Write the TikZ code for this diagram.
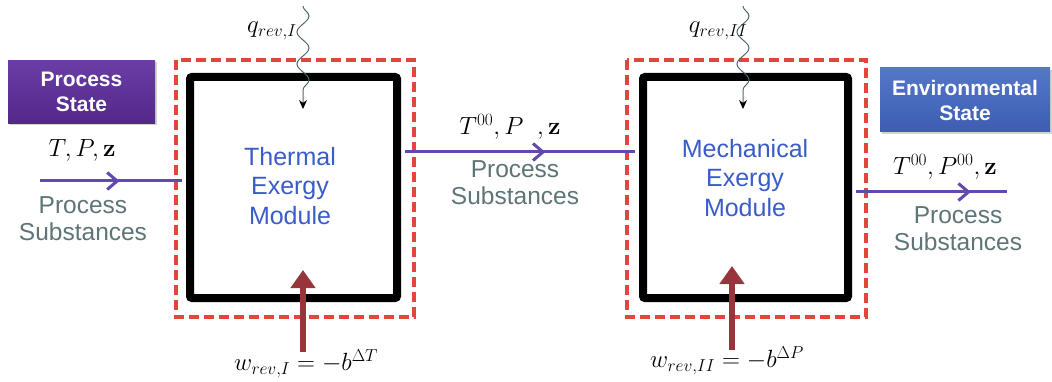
\documentclass[tikz,border=0pt]{standalone}
\usepackage{amsmath}
\usepackage[no-math]{fontspec}
\setmainfont{Liberation Sans}
\usetikzlibrary{arrows.meta,decorations.pathmorphing,decorations.markings,shadows}
\definecolor{flowpurple}{HTML}{6248B0}
\definecolor{boxpurple}{HTML}{52288A}
\definecolor{boxpurpletop}{HTML}{6A3EA6}
\definecolor{boxblue}{HTML}{3C5DB2}
\definecolor{boxbluetop}{HTML}{5577C8}
\definecolor{modblue}{HTML}{3A5CC8}
\definecolor{subgray}{HTML}{5E7476}
\definecolor{workred}{HTML}{96353A}
\definecolor{dashred}{HTML}{E2453A}
\definecolor{wavegray}{HTML}{4E6670}
\tikzset{
  statebox/.style={draw=none, text=white, font=\fontsize{21}{25}\selectfont\bfseries, align=center, inner sep=0pt, drop shadow={opacity=0.35, shadow xshift=2pt, shadow yshift=-2pt}},
  module/.style={draw=black, line width=8pt, rounded corners=2pt},
  envelope/.style={draw=dashred, line width=3.4pt, dash pattern=on 10pt off 5pt},
  modtext/.style={text=modblue, font=\fontsize{25}{29.5}\selectfont, align=center},
  subst/.style={text=subgray, font=\fontsize{24.5}{27}\selectfont, align=center},
  flow/.style={draw=flowpurple, line width=3pt, postaction={decorate}},
  midarrow/.style={decoration={markings, mark=at position #1 with {\arrow{Straight Barb[length=10pt,width=17pt,line width=3pt]}}}},
  heat/.style={draw=wavegray, line width=1pt, decorate, decoration={snake, amplitude=6pt, segment length=32pt, post length=8pt}, -{Stealth[length=9pt,width=8pt,black]}},
  work/.style={draw=workred, line width=6pt, -{Triangle[length=18pt,width=24pt]}},
  mathlbl/.style={font=\fontsize{24}{26}\selectfont, inner sep=0pt},
}
\begin{document}
\begin{tikzpicture}[x=1pt,y=-1pt]
\useasboundingbox (0,0) rectangle (1052,382);
% envelopes
\draw[envelope] (176,60) rectangle (414,317);
\draw[envelope] (627,60) rectangle (866,317);
% modules
\node[module, minimum width=207pt, minimum height=221pt, inner sep=0pt] (m1) at (293.5,187.5) {};
\node[module, minimum width=205pt, minimum height=221pt, inner sep=0pt] (m2) at (745.5,187.5) {};
\node[modtext] (t1) at (290,186) {Thermal\\Exergy\\Module};
\node[modtext] (t2) at (745,178) {Mechanical\\Exergy\\Module};
% state boxes
\node[statebox, top color=boxpurpletop, bottom color=boxpurple, minimum width=147pt, minimum height=63pt] (ps) at (81.5,92) {Process\\State};
\node[statebox, top color=boxbluetop, bottom color=boxblue, minimum width=170pt, minimum height=64pt] (es) at (965,100) {Environmental\\State};
% flow coordinates
\coordinate (in0) at (40,181);
\coordinate (in1) at ([xshift=-4pt]m1.west |- in0);
\coordinate (mid0) at ([xshift=4pt]m1.east |- 0,152);
\coordinate (mid1) at ([xshift=-4pt]m2.west |- 0,152);
\coordinate (out0) at ([xshift=4pt]m2.east |- 0,192);
\coordinate (out1) at (1007,192);
\draw[flow, midarrow=0.56] (in0) -- (in1);
\draw[flow, midarrow=0.61] (mid0) -- (mid1);
\draw[flow, midarrow=0.76] (out0) -- (out1);
% flow labels
\node[mathlbl] (l1) at (82,150) {$T,P,\mathbf{z}$};
\node[subst] (s1) at (83,219) {Process\\Substances};
\node[mathlbl] (l2) at (510,127) {$T^{00},P\;\;,\mathbf{z}$};
\node[subst] (s2) at (515,183) {Process\\Substances};
\node[mathlbl] (l3) at (945,167) {$T^{00},P^{00},\mathbf{z}$};
\node[subst] (s3) at (958,229) {Process\\Substances};
% heat
\coordinate (h1a) at (303,6);
\coordinate (h1b) at (303,109);
\coordinate (h2a) at (743,6);
\coordinate (h2b) at (743,109);
\draw[heat] (h1a) -- (h1b);
\draw[heat] (h2a) -- (h2b);
\node[mathlbl] (q1) at (272,31) {$q_{rev,I}$};
\node[mathlbl] (q2) at (718,31) {$q_{rev,II}$};
% work
\coordinate (w1a) at (303,352);
\coordinate (w1b) at (303,270);
\coordinate (w2a) at (732,350);
\coordinate (w2b) at (732,266);
\draw[work] (w1a) -- (w1b);
\draw[work] (w2a) -- (w2b);
\node[mathlbl] (wl1) at (306,364) {$w_{rev,I}=-b^{\Delta T}$};
\node[mathlbl] (wl2) at (727,361) {$w_{rev,II}=-b^{\Delta P}$};
\end{tikzpicture}
\end{document}
